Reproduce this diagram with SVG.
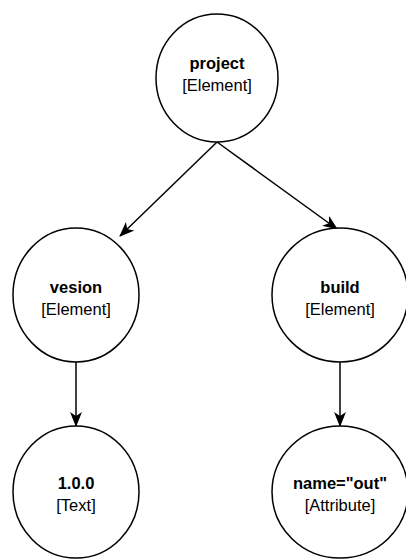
<svg xmlns="http://www.w3.org/2000/svg" width="406" height="560" viewBox="0 0 406 560">
<defs>
<marker id="arr" viewBox="0 0 15 12" refX="14" refY="6" markerWidth="15" markerHeight="12" markerUnits="userSpaceOnUse" orient="auto">
<path d="M0,0 L15,6 L0,12 L4,6 Z" fill="#000"/>
</marker>
<style>
.n{fill:#fff;stroke:#000;stroke-width:1.5}
.b{font-family:"Liberation Sans",Arial,sans-serif;font-size:16.5px;font-weight:bold;text-anchor:middle;fill:#000}
.t{font-family:"Liberation Sans",Arial,sans-serif;font-size:16.5px;text-anchor:middle;fill:#000}
.e{fill:none;stroke:#000;stroke-width:1.5;marker-end:url(#arr)}
</style>
</defs>
<rect width="406" height="560" fill="#fff"/>
<g id="edges">
<path class="e" d="M217,142 L120,236"/>
<path class="e" d="M217,142 L337,229"/>
<path class="e" d="M76,362 L76,426"/>
<path class="e" d="M340,362 L340,426"/>
</g>
<g id="project">
<ellipse class="n" cx="217" cy="78" rx="61" ry="64"/>
<text class="b" x="217" y="69">project</text>
<text class="t" x="217" y="91">[Element]</text>
</g>
<g id="vesion">
<ellipse class="n" cx="76" cy="295" rx="63" ry="67"/>
<text class="b" x="76" y="293">vesion</text>
<text class="t" x="76" y="315">[Element]</text>
</g>
<g id="build">
<ellipse class="n" cx="340" cy="295" rx="68" ry="67"/>
<text class="b" x="340" y="293">build</text>
<text class="t" x="340" y="315">[Element]</text>
</g>
<g id="text100">
<ellipse class="n" cx="76" cy="492" rx="63" ry="66"/>
<text class="b" x="76" y="489">1.0.0</text>
<text class="t" x="76" y="511">[Text]</text>
</g>
<g id="nameout">
<ellipse class="n" cx="340" cy="492" rx="68" ry="66"/>
<text class="b" x="340" y="489">name="out"</text>
<text class="t" x="340" y="511">[Attribute]</text>
</g>
</svg>
